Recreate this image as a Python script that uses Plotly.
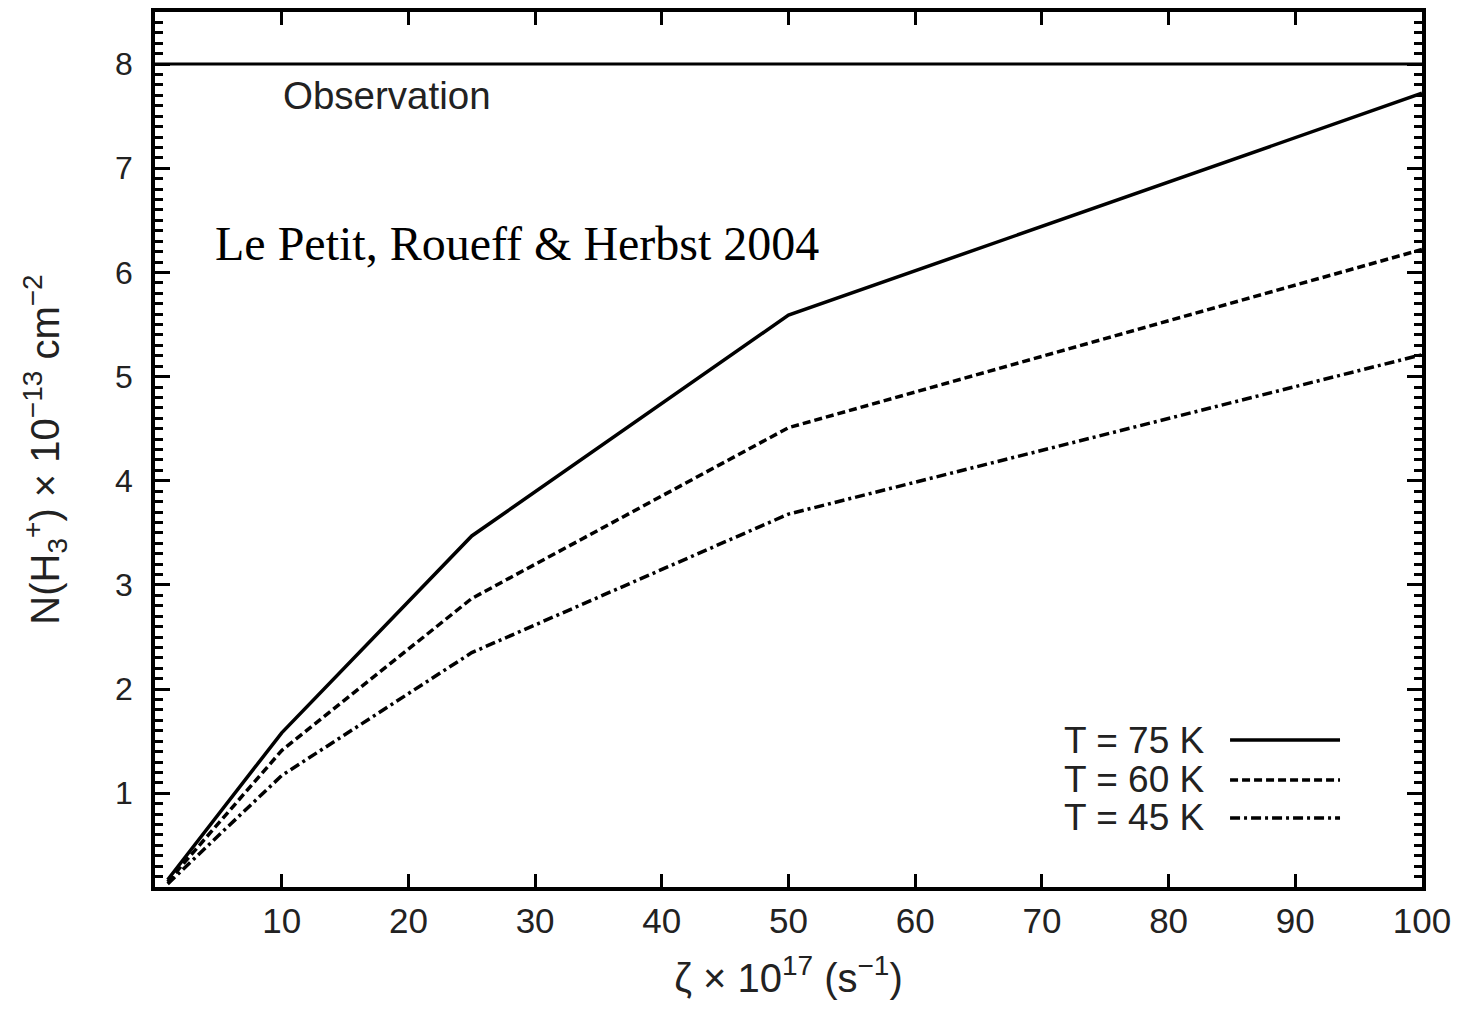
import plotly.graph_objects as go

# ---- data ----
zeta = [1, 10, 25, 50, 100]
n_75K = [0.17, 1.58, 3.47, 5.59, 7.72]
n_60K = [0.15, 1.41, 2.87, 4.51, 6.22]
n_45K = [0.13, 1.17, 2.35, 3.68, 5.21]
obs_x = [0, 100]
obs_y = [8, 8]
series_labels = ["T = 75 K", "T = 60 K", "T = 45 K"]
x_ticks = [10, 20, 30, 40, 50, 60, 70, 80, 90, 100]

SANS = "Liberation Sans, Arial, sans-serif"
SERIF = "Liberation Serif, Times New Roman, serif"

dashes = ["solid", "8px,4px", "10px,4px,3px,4px"]
series = [n_75K, n_60K, n_45K]

fig = go.Figure()
fig.add_trace(go.Scatter(x=obs_x, y=obs_y, mode="lines",
                         line=dict(color="black", width=3), showlegend=False))
for ys, d in zip(series, dashes):
    fig.add_trace(go.Scatter(x=zeta, y=ys, mode="lines",
                             line=dict(color="black", width=3.5, dash=d),
                             showlegend=False))
# invisible trace carrying the right-hand minor-tick axis
fig.add_trace(go.Scatter(x=obs_x, y=obs_y, mode="lines", yaxis="y2",
                         line=dict(width=0), opacity=0, hoverinfo="skip",
                         showlegend=False))

fig.add_annotation(text="Observation", xref="paper", yref="paper",
                   x=0.0994, y=0.905, xanchor="left", yanchor="middle",
                   showarrow=False, font=dict(family=SANS, size=38.5, color="#222"))
fig.add_annotation(text="Le Petit, Roueff &amp; Herbst 2004", xref="paper", yref="paper",
                   x=0.0458, y=0.736, xanchor="left", yanchor="middle",
                   showarrow=False, font=dict(family=SERIF, size=48, color="black"))

leg_y = [0.168, 0.1223, 0.0789]
for lab, d, yy in zip(series_labels, dashes, leg_y):
    fig.add_annotation(text=lab, xref="paper", yref="paper", x=0.8303, y=yy,
                       xanchor="right", yanchor="middle", showarrow=False,
                       font=dict(family=SANS, size=37, color="#222"))
    fig.add_shape(type="line", xref="paper", yref="paper",
                  x0=0.8485, x1=0.9353, y0=yy, y1=yy,
                  line=dict(color="black", width=3.5, dash=d))

fig.update_xaxes(range=[0, 100], tickvals=x_ticks, ticks="inside", ticklen=13,
                 tickwidth=3, tickcolor="black", showline=True, linewidth=3.5,
                 linecolor="black", mirror="ticks", showgrid=False, zeroline=False,
                 tickfont=dict(family=SANS, size=35, color="#222"),
                 title=dict(text="ζ × 10<sup>17</sup> (s<sup>−1</sup>)",
                            font=dict(family=SANS, size=40, color="#222"),
                            standoff=26))

fig.update_layout(
    yaxis=dict(range=[0.1, 8.5], tickmode="linear", tick0=0, dtick=1,
               ticks="inside", ticklen=15,
               tickwidth=3, tickcolor="black", showline=True, linewidth=3.5,
               linecolor="black", mirror="ticks", showgrid=False, zeroline=False,
               minor=dict(ticks="inside", ticklen=8, tickwidth=2.5,
                          tickcolor="black", dtick=0.1),
               tickfont=dict(family=SANS, size=32, color="#222"),
               ticklabelstandoff=12,
               title=dict(text="N(H<sub>3</sub><sup>+</sup>) × 10<sup>−13</sup> cm<sup>−2</sup>",
                          font=dict(family=SANS, size=40, color="#222"),
                          standoff=44)),
    yaxis2=dict(range=[0.1, 8.5], overlaying="y", side="right", anchor="x",
                tickmode="linear", tick0=0, dtick=0.1, ticks="inside",
                ticklen=8, tickwidth=2.5, tickcolor="black",
                showticklabels=False, showline=False,
                showgrid=False, zeroline=False),
    width=1466, height=1012,
    margin=dict(l=155, r=44, t=12, b=125, autoexpand=False),
    plot_bgcolor="white", paper_bgcolor="white",
    showlegend=False)

fig.write_html("out.html")
